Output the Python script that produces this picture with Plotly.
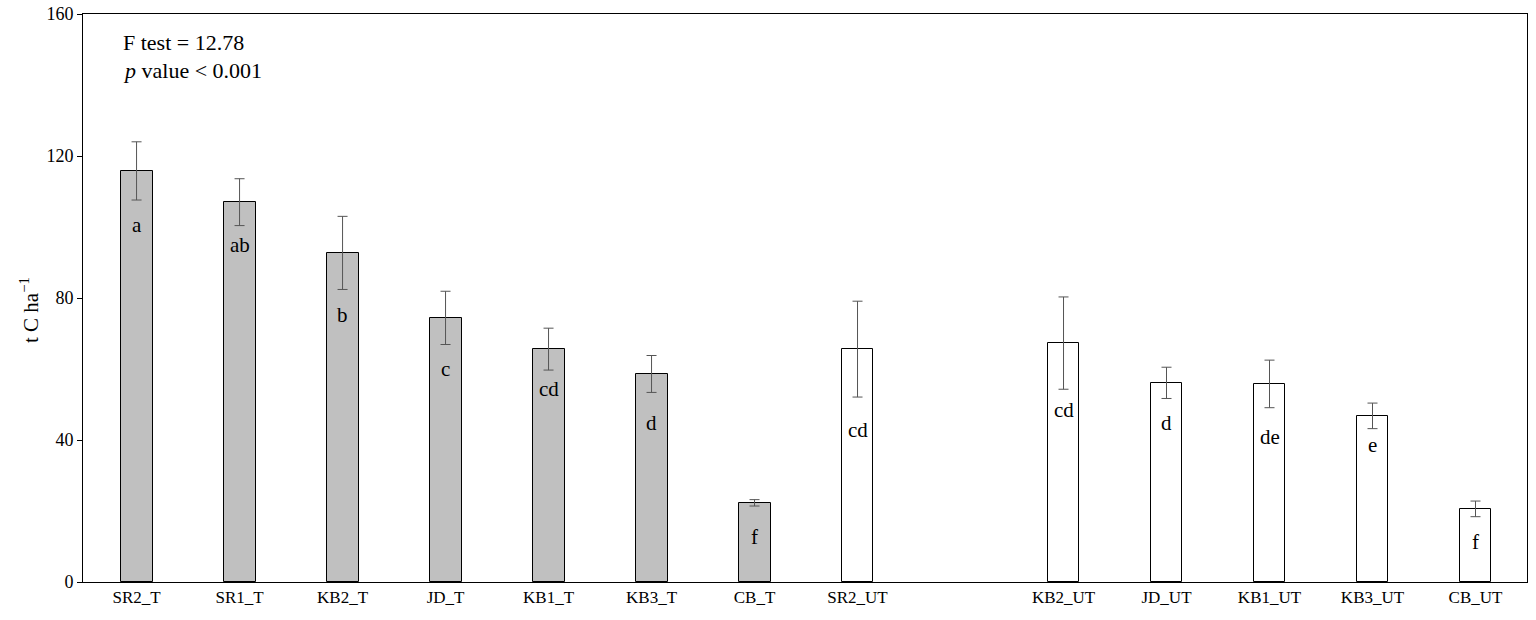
import plotly.graph_objects as go

# treated (grey) and untreated (white) stands
labels_t = ['SR2_T', 'SR1_T', 'KB2_T', 'JD_T', 'KB1_T', 'KB3_T', 'CB_T']
carbon_t = [115.8, 107.0, 92.7, 74.4, 65.6, 58.6, 22.3]
err_t = [8.2, 6.6, 10.3, 7.5, 5.9, 5.2, 0.9]
letters_t = ['a', 'ab', 'b', 'c', 'cd', 'd', 'f']
letter_y_t = [100.6, 94.9, 75.2, 60.0, 54.4, 44.8, 12.7]

labels_ut = ['SR2_UT', 'KB2_UT', 'JD_UT', 'KB1_UT', 'KB3_UT', 'CB_UT']
carbon_ut = [65.6, 67.3, 56.1, 55.8, 46.8, 20.6]
err_ut = [13.5, 13.0, 4.4, 6.7, 3.6, 2.2]
letters_ut = ['cd', 'cd', 'd', 'de', 'e', 'f']
letter_y_ut = [42.8, 48.5, 44.8, 40.8, 38.6, 11.3]

# slot positions (one empty slot after SR2_UT)
pos_t = [0, 1, 2, 3, 4, 5, 6]
pos_ut = [7, 9, 10, 11, 12, 13]

font = 'Liberation Serif'

fig = go.Figure()

fig.add_trace(go.Bar(
    x=pos_t, y=carbon_t, width=0.31,
    marker=dict(color='#c0c0c0', line=dict(color='black', width=1)),
    error_y=dict(type='data', array=err_t, color='#555555', thickness=1, width=5),
    showlegend=False,
))
fig.add_trace(go.Bar(
    x=pos_ut, y=carbon_ut, width=0.31,
    marker=dict(color='white', line=dict(color='black', width=1)),
    error_y=dict(type='data', array=err_ut, color='#555555', thickness=1, width=5),
    showlegend=False,
))

for x, y, t in zip(pos_t + pos_ut, letter_y_t + letter_y_ut, letters_t + letters_ut):
    fig.add_annotation(x=x, y=y, text=t, showarrow=False,
                       font=dict(family=font, size=21, color='black'))

fig.add_annotation(xref='paper', yref='paper', x=0.026, y=0.95,
                   xanchor='left', yanchor='middle',
                   text='F test = 12.78', showarrow=False,
                   font=dict(family=font, size=22, color='black'))
fig.add_annotation(xref='paper', yref='paper', x=0.026, y=0.90,
                   xanchor='left', yanchor='middle',
                   text='<i>p</i> value < 0.001', showarrow=False,
                   font=dict(family=font, size=22, color='black'))

# y axis title, sitting a little below the middle of the axis
fig.add_annotation(xref='paper', yref='y', x=-0.037, y=76.5,
                   xanchor='center', yanchor='middle', textangle=-90,
                   text='t C ha<sup>−1</sup>', showarrow=False,
                   font=dict(family=font, size=21, color='black'))

fig.update_layout(
    width=1536, height=620,
    margin=dict(l=83, r=9, t=14, b=38, autoexpand=False),
    plot_bgcolor='white', paper_bgcolor='white',
    font=dict(family=font, color='black'),
    bargap=0,
    xaxis=dict(
        range=[-0.52, 13.5],
        tickvals=pos_t + pos_ut,
        ticktext=labels_t + labels_ut,
        showgrid=False, zeroline=False, automargin=False,
        showline=True, linecolor='black', linewidth=1, mirror=True,
        ticks='', tickfont=dict(family=font, size=17),
    ),
    yaxis=dict(
        range=[0, 160],
        tickvals=[0, 40, 80, 120, 160],
        showgrid=False, zeroline=False, automargin=False,
        showline=True, linecolor='black', linewidth=1, mirror=True,
        ticks='outside', ticklen=5, tickcolor='black',
        ticklabeloverflow='allow',
        tickfont=dict(family=font, size=18),
    ),
)

# drop the default page margin so the figure sits at the window corner
fig.write_html('out.html', config={'displayModeBar': False},
               post_script="document.body.style.margin='0';")
